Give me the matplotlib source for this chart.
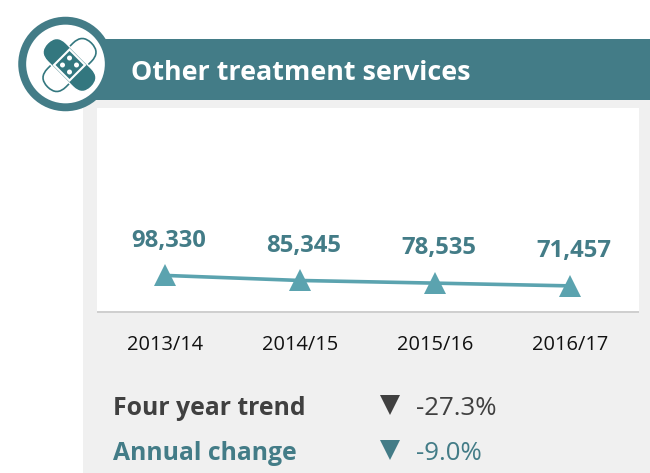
import matplotlib
matplotlib.use("Agg")
import matplotlib.pyplot as plt
from matplotlib.patches import Rectangle, Circle, FancyBboxPatch, Polygon
from matplotlib.transforms import Affine2D

plt.rcParams['font.family'] = ['Open Sans', 'DejaVu Sans']

years = ["2013/14", "2014/15", "2015/16", "2016/17"]
values = [98330, 85345, 78535, 71457]
value_labels = ["98,330", "85,345", "78,535", "71,457"]
title = "Other treatment services"
trend_label = "Four year trend"
trend_value = "-27.3%"
annual_label = "Annual change"
annual_value = "-9.0%"

TEAL = "#437c87"
ICON = "#33777f"
LINE = "#5ba3af"
DARK = "#404040"
W, H = 650, 473

fig = plt.figure(figsize=(W / 100, H / 100), dpi=100, facecolor="white")

# page furniture is drawn in pixel coords
bg = fig.add_axes([0, 0, 1, 1])
bg.set_xlim(0, W)
bg.set_ylim(H, 0)
bg.axis("off")

bg.add_patch(Rectangle((83, 100), W - 83, H - 100, fc="#f0f0f0", ec="none"))
bg.add_patch(Rectangle((97, 108), 542, 203, fc="white", ec="none"))
bg.add_patch(Rectangle((97, 311), 542, 1.5, fc="#cfcfcf", ec="none"))
bg.add_patch(Rectangle((95, 39), W - 95, 61, fc=TEAL, ec="none"))
bg.add_patch(Circle((65.5, 64), 43.3, fc="white", ec=TEAL, lw=5.7))
bg.text(131, 73, title, color="white", fontsize=19.4, fontweight="bold", va="center", ha="left")


def capsule(angle, **kw):
    p = FancyBboxPatch((69.5 - 19, 65 - 1), 38, 2, boxstyle="round,pad=0,rounding_size=1", **kw)
    p.set_boxstyle("round", pad=12, rounding_size=13)
    p.set_transform(Affine2D().rotate_deg_around(69.5, 65, angle) + bg.transData)
    bg.add_patch(p)


# bandage icon
capsule(-45, fc="white", ec=ICON, lw=1.2, zorder=3)
capsule(45, fc=ICON, ec="white", lw=1.0, zorder=4)
bg.add_patch(Polygon([(69.5, 48), (86.5, 65), (69.5, 82), (52.5, 65)], fc="white", ec="none", zorder=5))
bg.add_patch(Polygon([(69.5, 51), (83.5, 65), (69.5, 79), (55.5, 65)], fc=ICON, ec="none", zorder=6))
for dx, dy in [(0, -7), (7, 0), (0, 7), (-7, 0)]:
    bg.add_patch(Circle((69.5 + dx, 65 + dy), 2.5, fc="white", ec="none", zorder=7))

# trend block
bg.text(113, 408, trend_label, color=DARK, fontsize=17.8, fontweight="bold", va="center")
bg.text(113, 453, annual_label, color=TEAL, fontsize=17.8, fontweight="bold", va="center")
bg.plot([390], [405], marker="v", color=DARK, ms=15, mew=0, ls="none")
bg.plot([390], [450], marker="v", color=TEAL, ms=15, mew=0, ls="none")
bg.text(416, 408, trend_value, color=DARK, fontsize=18.6, va="center")
bg.text(416, 453, annual_value, color=TEAL, fontsize=18.6, va="center")

# chart
ax = fig.add_axes([97 / W, 1 - 311 / H, 542 / W, 203 / H])
ax.patch.set_alpha(0)
x = list(range(len(years)))
ax.plot(x, values, color=LINE, lw=2.6, marker="^", ms=16.5, mew=0, clip_on=False)
ax.set_xlim(-0.504, 3.511)
ax.set_ylim(7000, 528000)
for i, lab in enumerate(value_labels):
    ax.annotate(lab, (i, values[i]), xytext=(2.5, 25), textcoords="offset points",
                ha="center", va="center", color=TEAL, fontsize=17.2, fontweight="bold")
ax.set_xticks(x)
ax.set_xticklabels(years, fontsize=14.4, color="#111111")
ax.tick_params(axis="x", length=0, pad=17)
ax.set_yticks([])
for s in ax.spines.values():
    s.set_visible(False)

fig.savefig("out.png", dpi=100)
